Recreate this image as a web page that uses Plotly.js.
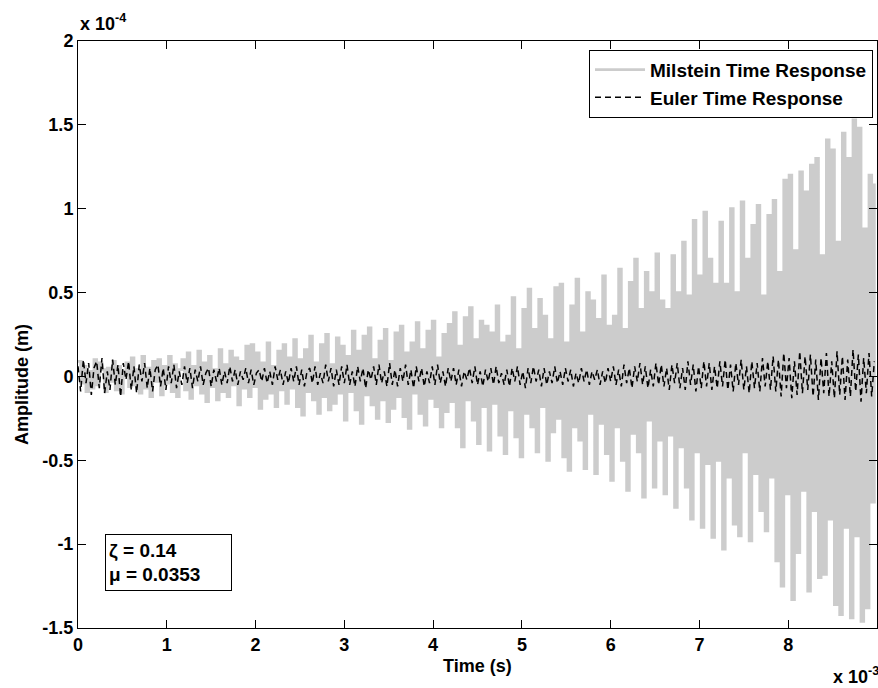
<!DOCTYPE html>
<html>
<head>
<meta charset="utf-8">
<script src="https://cdn.plot.ly/plotly-3.0.1.min.js"></script>
<style>html,body{margin:0;padding:0;background:#fff;}#chart{width:878px;height:688px;}</style>
</head>
<body>
<div id="chart"></div>
<script>
// Time step of the samples, in ms (axis shows x 10^-3 s)
const sampleStepMs = 0.03;

// Milstein time response, amplitude in units of 1e-4 m
const milstein = [
 0.09,-0.04,0.06,-0.09,0.03,-0.07,0.10,-0.05,0.08,0.04,-0.09,0.05,-0.03,0.09,-0.08,0.06,-0.10,0.03,0.08,-0.06,
 0.11,-0.05,0.04,-0.10,0.12,-0.07,0.05,-0.12,0.09,-0.03,0.10,-0.11,0.06,-0.04,0.12,-0.09,0.07,-0.12,0.04,0.10,
 -0.08,0.14,-0.13,0.06,-0.05,0.15,-0.10,0.08,-0.15,0.12,-0.06,0.04,-0.14,0.16,-0.09,0.07,-0.12,0.15,-0.05,0.11,
 -0.17,0.09,-0.07,0.18,-0.12,0.19,-0.06,0.14,-0.19,0.08,-0.13,0.20,-0.10,0.06,-0.18,0.15,-0.08,0.19,-0.16,0.11,
 -0.07,0.22,-0.18,0.10,-0.23,0.16,-0.09,0.24,-0.14,0.08,-0.22,0.19,-0.12,0.25,-0.20,0.07,-0.16,0.23,-0.10,0.18,
 -0.26,0.12,-0.09,0.27,-0.20,0.15,-0.28,0.24,-0.11,0.29,-0.17,0.10,-0.25,0.21,-0.14,0.28,-0.27,0.09,-0.19,0.26,
 -0.12,0.30,-0.24,0.14,-0.31,0.20,-0.10,0.32,-0.22,0.16,-0.29,0.27,-0.13,0.33,-0.18,0.11,-0.30,0.25,-0.21,0.31,
 -0.15,0.38,-0.30,0.18,-0.42,0.35,-0.14,0.41,-0.26,0.22,-0.40,0.33,-0.18,0.30,-0.44,0.26,-0.16,0.42,-0.35,0.20,
 -0.46,0.24,-0.20,0.47,-0.36,0.16,-0.48,0.40,-0.22,0.52,-0.30,0.28,-0.45,0.46,-0.18,0.36,-0.50,0.22,-0.33,0.53,
 -0.25,0.55,-0.48,0.20,-0.56,0.42,-0.30,0.58,-0.38,0.26,-0.55,0.50,-0.22,0.45,-0.58,0.34,-0.28,0.60,-0.46,0.30,
 -0.62,0.36,-0.30,0.64,-0.50,0.28,-0.68,0.56,-0.34,0.70,-0.45,0.40,-0.72,0.62,-0.26,0.50,-0.66,0.73,-0.38,0.45,
 -0.70,0.40,-0.35,0.72,-0.78,0.50,-0.42,0.80,-0.66,0.48,-0.85,0.93,-0.45,0.60,-0.90,0.98,-0.52,0.70,-0.96,0.55,
 -0.50,0.92,-1.03,0.55,-0.60,1.00,-0.88,0.50,-0.95,1.04,-0.45,0.70,-0.98,0.90,-0.58,1.02,-0.80,0.48,-0.92,0.96,
 -0.60,1.05,-1.10,0.62,-1.25,1.17,-0.70,1.20,-1.33,0.75,-1.05,1.22,-0.68,1.10,-1.28,1.26,-0.80,1.30,-1.20,0.72,
 -1.18,1.41,-0.85,1.35,-1.36,0.80,-1.42,1.45,-0.90,1.30,-1.44,1.53,-0.95,1.48,-1.46,0.88,-1.38,1.20,-0.75,1.15
];

// Euler time response, amplitude in units of 1e-4 m
const euler = [
 0.06,-0.09,0.10,-0.04,0.08,-0.11,0.05,0.09,-0.07,0.11,-0.10,0.03,-0.08,0.10,-0.05,0.07,-0.12,0.08,-0.02,0.09,
 -0.08,0.06,-0.10,0.07,-0.03,0.08,-0.07,0.05,-0.09,0.04,0.07,-0.06,0.05,-0.08,0.06,-0.04,0.07,-0.07,0.03,-0.05,
 0.06,-0.04,0.05,-0.07,0.04,-0.03,0.06,-0.05,0.02,0.05,-0.06,0.04,-0.03,0.05,-0.05,0.03,-0.04,0.06,-0.03,0.04,
 -0.05,0.03,-0.02,0.05,-0.04,0.04,-0.05,0.02,0.04,-0.03,0.05,-0.04,0.03,-0.05,0.06,-0.02,0.04,-0.05,0.03,-0.04,
 0.05,-0.03,0.06,-0.05,0.04,-0.06,0.03,0.05,-0.04,0.06,-0.05,0.02,-0.04,0.07,-0.03,0.05,-0.06,0.04,-0.05,0.06,
 -0.04,0.07,-0.05,0.03,-0.06,0.06,-0.03,0.05,-0.07,0.04,-0.02,0.06,-0.05,0.07,-0.04,0.03,-0.06,0.08,-0.05,0.04,
 -0.06,0.05,-0.03,0.07,-0.05,0.04,-0.07,0.06,-0.03,0.05,-0.06,0.03,-0.04,0.06,-0.05,0.07,-0.04,0.03,-0.06,0.05,
 -0.03,0.05,-0.05,0.04,-0.06,0.03,-0.02,0.05,-0.04,0.06,-0.05,0.03,-0.06,0.04,-0.03,0.05,-0.05,0.06,-0.04,0.02,
 -0.05,0.04,-0.06,0.05,-0.03,0.06,-0.05,0.03,-0.07,0.05,-0.04,0.06,-0.03,0.04,-0.06,0.05,-0.05,0.03,-0.04,0.06,
 -0.04,0.03,-0.05,0.05,-0.03,0.04,-0.06,0.02,-0.04,0.05,-0.03,0.04,-0.05,0.03,-0.02,0.04,-0.05,0.03,-0.04,0.05,
 -0.03,0.06,-0.05,0.04,-0.06,0.07,-0.04,0.05,-0.07,0.06,-0.03,0.08,-0.05,0.06,-0.07,0.04,-0.06,0.08,-0.05,0.07,
 -0.06,0.05,-0.08,0.07,-0.04,0.08,-0.07,0.05,-0.08,0.09,-0.05,0.07,-0.09,0.06,-0.07,0.09,-0.06,0.08,-0.08,0.06,
 -0.07,0.09,-0.06,0.10,-0.08,0.07,-0.09,0.08,-0.05,0.10,-0.08,0.06,-0.10,0.09,-0.07,0.08,-0.09,0.11,-0.06,0.09,
 -0.08,0.12,-0.09,0.10,-0.12,0.14,-0.07,0.11,-0.13,0.09,-0.11,0.15,-0.10,0.12,-0.08,0.13,-0.12,0.10,-0.14,0.11,
 -0.10,0.14,-0.12,0.09,-0.13,0.15,-0.11,0.12,-0.14,0.10,-0.12,0.16,-0.09,0.13,-0.15,0.11,-0.10,0.14,-0.12,0.09
];

const seriesNames = ["Milstein Time Response", "Euler Time Response"];
const xTickVals = [0,1,2,3,4,5,6,7,8,9];
const xTickText = ["0","1","2","3","4","5","6","7","8","9"];
const yTickVals = [-1.5,-1,-0.5,0,0.5,1,1.5,2];
const yTickText = ["-1.5","-1","-0.5","0","0.5","1","1.5","2"];
const paramText = ["ζ = 0.14", "μ = 0.0353"];

const timeM = milstein.map((_, i) => i * sampleStepMs);
const timeE = euler.map((_, i) => i * sampleStepMs);

const FONT = {family: "Liberation Sans, Arial, sans-serif", size: 18, color: "#000", weight: "bold"};
const FONT_BIG = Object.assign({}, FONT, {size: 19});

const traces = [
  {x: timeM, y: milstein, type: "scatter", mode: "lines", name: seriesNames[0],
   line: {color: "#cccccc", width: 2.8, shape: "hv"}},
  {x: timeE, y: euler, type: "scatter", mode: "lines", name: seriesNames[1],
   line: {color: "#000000", width: 1.5, dash: "6px,4px"}}
];

const axisCommon = {
  showline: true, linecolor: "#000", linewidth: 1, mirror: "allticks",
  ticks: "inside", ticklen: 8, tickwidth: 1, tickcolor: "#000",
  showgrid: false, zeroline: false, tickfont: FONT
};

const layout = {
  width: 878, height: 688,
  margin: {l: 78, r: 1, t: 41, b: 60},
  paper_bgcolor: "#fff", plot_bgcolor: "#fff",
  font: FONT,
  showlegend: true,
  legend: {x: 0.995, xanchor: "right", y: 0.985, yanchor: "top", itemwidth: 50,
    bgcolor: "#fff", bordercolor: "#000", borderwidth: 1, font: FONT_BIG},
  xaxis: Object.assign({}, axisCommon, {range: [0, 9], tickvals: xTickVals, ticktext: xTickText}),
  yaxis: Object.assign({}, axisCommon, {range: [-1.5, 2], tickvals: yTickVals, ticktext: yTickText}),
  annotations: [
    {text: "Time (s)", xref: "paper", yref: "paper", x: 0.5, y: -0.044, xanchor: "center", yanchor: "top",
     showarrow: false, font: FONT},
    {text: "Amplitude (m)", xref: "paper", yref: "paper", x: -0.07, y: 0.414, xanchor: "center", yanchor: "middle",
     textangle: -90, showarrow: false, font: FONT},
    {text: "x 10<sup>-4</sup>", xref: "paper", yref: "paper", x: 0, y: 1.008, xanchor: "left", yanchor: "bottom",
     showarrow: false, font: FONT},
    {text: "x 10<sup>-3</sup>", xref: "paper", yref: "paper", x: 0.9425, y: -0.104, xanchor: "left", yanchor: "bottom",
     showarrow: false, font: FONT},
    {text: paramText.join("<br>"), xref: "paper", yref: "paper", x: 0.034, y: 0.16, xanchor: "left", yanchor: "top",
     align: "left", showarrow: false, bgcolor: "#fff", bordercolor: "#000", borderwidth: 1, borderpad: 3,
     width: 119, height: 49, font: FONT_BIG}
  ]
};

Plotly.newPlot("chart", traces, layout, {displayModeBar: false, responsive: false});
</script>
</body>
</html>
